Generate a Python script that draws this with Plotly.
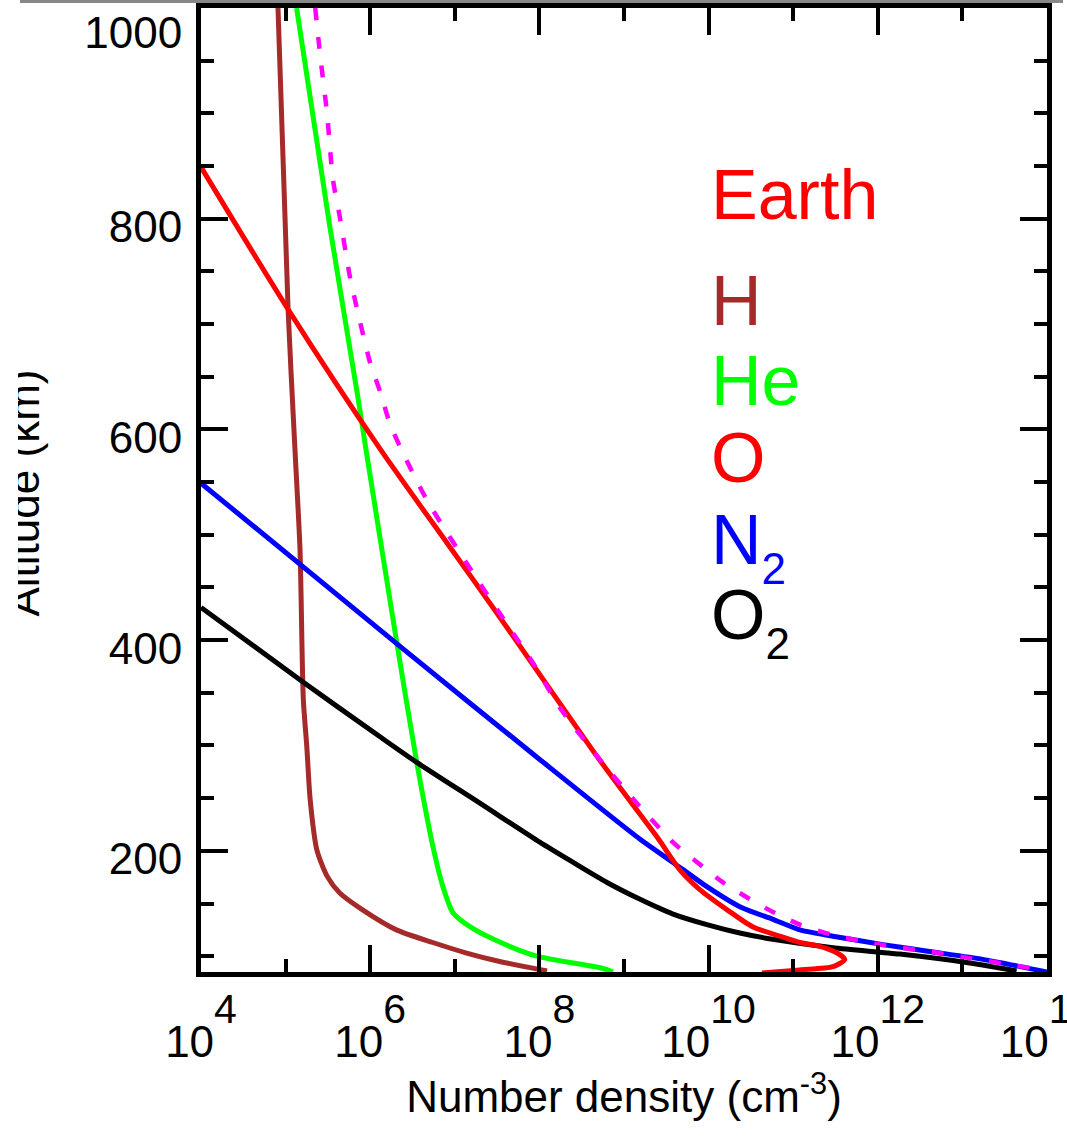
import plotly.graph_objects as go

# ---- data (altitude km, number density cm^-3) ----
h_alt = [1000, 714, 581, 486, 344, 299, 249, 201, 176, 160, 144, 125, 113, 103, 95, 86]
h_n = [8.13e4, 1.07e5, 1.29e5, 1.48e5, 1.62e5, 1.78e5, 1.95e5, 2.34e5, 3.09e5, 4.37e5,
       8.13e5, 2.04e6, 5.50e6, 1.38e7, 3.39e7, 1.23e8]

he_alt = [1000, 794, 628, 581, 400, 284, 201, 166, 141, 128, 116, 100, 89, 85]
he_n = [1.35e5, 3.31e5, 7.24e5, 8.91e5, 2.04e6, 3.55e6, 5.62e6, 7.24e6, 9.55e6, 1.51e7,
        2.88e7, 9.33e7, 5.25e8, 7.41e8]

o_alt = [849, 714, 581, 492, 422, 293, 242, 211, 182, 163, 144, 128, 119, 113,
         110, 103, 97, 90, 87, 84]
o_n = [1.0e4, 1.07e5, 1.32e6, 8.13e6, 3.39e7, 4.47e8, 1.32e9, 2.57e9,
       4.57e9, 7.94e9, 1.66e10, 3.31e10, 6.92e10, 1.20e11, 1.91e11, 3.31e11, 4.07e11,
       2.95e11, 1.20e11, 4.27e10]

n2_alt = [549, 391, 287, 211, 189, 166, 147, 135, 125, 119, 111, 104, 97, 85]
n2_n = [1.0e4, 2.51e6, 1.0e8, 1.55e9, 3.80e9, 9.55e9, 2.34e10, 5.75e10, 1.20e11, 2.95e11,
        1.15e12, 4.47e12, 1.74e13, 1.0e14]

o2_alt = [431, 360, 308, 284, 245, 208, 189, 170, 154, 140, 130, 122, 116, 108, 102, 94, 86]
o2_n = [1.0e4, 1.62e5, 1.32e6, 3.55e6, 2.0e7, 1.02e8, 2.51e8, 6.31e8, 1.55e9, 3.80e9,
        9.55e9, 2.34e10, 5.75e10, 2.95e11, 1.82e12, 1.12e13, 4.37e13]

tot_alt = [1000, 954, 900, 837, 802, 745, 716, 663, 635, 606, 584, 533, 457, 375, 336, 290,
           249, 208, 185, 170, 156, 142, 130, 121, 114, 109, 104, 97, 87]
tot_n = [2.24e5, 2.57e5, 3.09e5, 3.63e5, 4.37e5, 5.75e5, 6.92e5, 1.0e6, 1.32e6, 1.70e6,
         2.24e6, 4.68e6, 1.86e7, 8.91e7, 1.74e8, 4.79e8, 1.29e9, 3.80e9, 8.51e9, 1.48e10,
         2.82e10, 5.75e10, 1.20e11, 2.69e11, 6.61e11, 1.51e12, 4.47e12, 1.48e13, 8.91e13]

x_tickvals = [1e4, 1e6, 1e8, 1e10, 1e12, 1e14]
x_exponents = ["4", "6", "8", "10", "12", "14"]
x_minor = [1e5, 1e7, 1e9, 1e11, 1e13]
y_tickvals = [200, 400, 600, 800, 1000]
y_ticktext = ["200", "400", "600", "800", "<span style='baseline-shift:-17px'>1000</span>"]
y_minor = [100, 150, 250, 300, 350, 450, 500, 550, 650, 700, 750, 850, 900, 950]

labels = [("Earth", "#FF0000"), ("H", "#A52A2A"), ("He", "#00FF00"), ("O", "#FF0000"),
          ("N<span style='font-size:44px;baseline-shift:-20px'>2</span>", "#0000FF"),
          ("O<span style='font-size:44px;baseline-shift:-20px'>2</span>", "#000000")]
label_y_px = [195, 301, 381, 458, 547, 622]

FONT = "Liberation Sans, Arial, Helvetica, sans-serif"
LW = 5

fig = go.Figure()
series = [(h_n, h_alt, "#A52A2A"), (he_n, he_alt, "#00FF00"),
          (o2_n, o2_alt, "#000000"), (n2_n, n2_alt, "#0000FF"),
          (o_n, o_alt, "#FF0000")]
for xs, ys, col in series:
    fig.add_trace(go.Scatter(x=xs, y=ys, mode="lines",
                             line=dict(color=col, width=LW, shape="spline", smoothing=0.7),
                             showlegend=False, hoverinfo="skip"))
fig.add_trace(go.Scatter(x=tot_n, y=tot_alt, mode="lines",
                         line=dict(color="#FF00FF", width=4.5, dash="12px,17px", shape="spline", smoothing=0.7),
                         showlegend=False, hoverinfo="skip"))

W, H = 1067, 1136
L, R, T, B = 201, 20, 8, 164
pw = W - L - R
ph = H - T - B

def px_to_paper_x(px):
    return (px - L) / pw

def px_to_paper_y(py):
    return (H - B - py) / ph

ticktext = ["10<span style='font-size:41px;baseline-shift:34px'>%s</span>" % e for e in x_exponents]

fig.update_layout(
    width=W, height=H,
    margin=dict(l=L, r=R, t=T, b=B, pad=0),
    paper_bgcolor="white", plot_bgcolor="white",
    font=dict(family=FONT, color="black", size=44),
    xaxis=dict(type="log", range=[4, 14], tickmode="array", tickvals=x_tickvals, ticktext=ticktext,
               ticks="inside", ticklen=27, tickwidth=4, tickcolor="black",
               showline=True, linewidth=5, linecolor="black", mirror="ticks",
               showgrid=False, zeroline=False, automargin=False, ticklabeloverflow="allow",
               tickfont=dict(size=44, family=FONT), ticklabelstandoff=27,
               minor=dict(tickmode="array", tickvals=x_minor, ticks="inside", ticklen=13,
                          tickwidth=4, tickcolor="black", showgrid=False),
               title=dict(text="Number density (cm<sup>-3</sup>)", font=dict(size=44, family=FONT),
                          standoff=18)),
    yaxis=dict(range=[85, 1000], tickmode="array", tickvals=y_tickvals, ticktext=y_ticktext,
               ticks="inside", ticklen=27, tickwidth=4, tickcolor="black",
               showline=True, linewidth=5, linecolor="black", mirror="ticks",
               showgrid=False, zeroline=False, automargin=False, ticklabeloverflow="allow",
               tickfont=dict(size=44, family=FONT), ticklabelstandoff=5, ticklabelshift=8,
               minor=dict(tickmode="array", tickvals=y_minor, ticks="inside", ticklen=13,
                          tickwidth=4, tickcolor="black", showgrid=False)),
)

annotations = []
for (txt, col), ypx in zip(labels, label_y_px):
    annotations.append(dict(text=txt, xref="paper", yref="paper",
                            x=px_to_paper_x(709), y=px_to_paper_y(ypx),
                            xanchor="left", yanchor="middle", showarrow=False,
                            font=dict(size=70, color=col, family=FONT)))
annotations.append(dict(text="Altitude (km)", xref="paper", yref="paper", textangle=-90,
                        x=px_to_paper_x(22.5), y=px_to_paper_y(493), xanchor="center", yanchor="middle",
                        showarrow=False, font=dict(size=44, color="black", family=FONT)))
annotations.append(dict(text=" ", xref="paper", yref="paper", x=px_to_paper_x(0), y=0.5,
                        xanchor="left", yanchor="middle", width=18, height=1100,
                        bgcolor="white", showarrow=False, borderpad=0, borderwidth=0))
fig.update_layout(annotations=annotations)

fig.add_shape(type="line", xref="paper", yref="paper",
              x0=px_to_paper_x(20), x1=px_to_paper_x(1063), y0=px_to_paper_y(1.5), y1=px_to_paper_y(1.5),
              line=dict(color="#888888", width=3))

fig.write_html("out.html")
